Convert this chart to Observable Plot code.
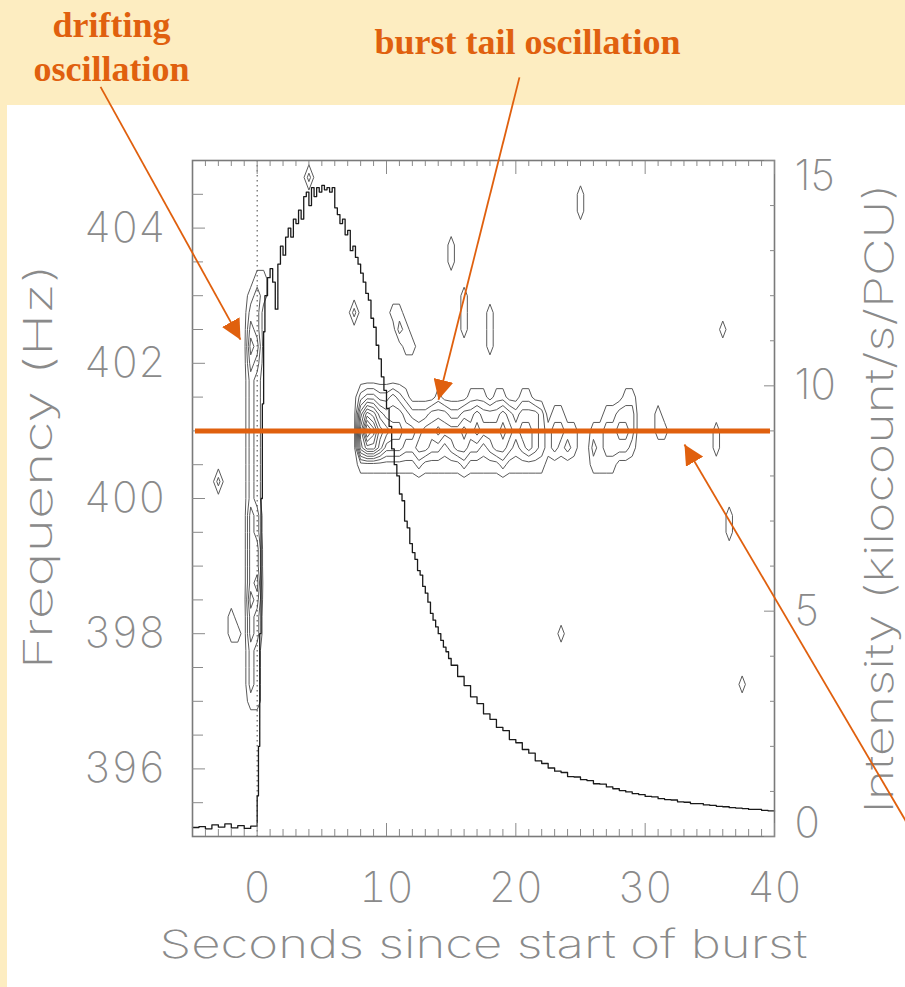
<!DOCTYPE html>
<html>
<head>
<meta charset="utf-8">
<script src="https://cdn.jsdelivr.net/npm/d3@7"></script>
<script src="https://cdn.jsdelivr.net/npm/@observablehq/plot@0.6"></script>
<style>
  html, body { margin: 0; padding: 0; }
  body { background: #fdedc1; width: 905px; height: 987px; position: relative; overflow: hidden; }
  #panel { position: absolute; left: 7px; top: 105px; width: 898px; height: 882px; background: #ffffff; }
  #chart { position: absolute; left: 0; top: 0; }
</style>
</head>
<body>
<div id="panel"></div>
<div id="chart"></div>
<script>
// Burst light curve: time since burst onset (s) and count rate (kilocount/s/PCU)
const lcTime = [-5, -4.5, -4, -3.5, -3, -2.5, -2, -1.5, -1, -0.5,
  0, 0.1, 0.2, 0.3, 0.4, 0.5, 0.6, 0.8, 1.0, 1.2, 1.4, 1.6, 1.8, 2.0, 2.2, 2.4, 2.6, 2.8,
  3.0, 3.2, 3.4, 3.6, 3.8, 4.0, 4.2, 4.4, 4.6, 4.8, 5.0, 5.2, 5.4, 5.6, 5.8, 6.0, 6.2, 6.4,
  6.6, 6.8, 7.0, 7.2, 7.4, 7.6, 7.8, 8.0, 8.2, 8.4, 8.6, 8.8, 9.0, 9.2, 9.4, 9.6, 9.8, 10.0,
  10.2, 10.4, 10.6, 10.8, 11.0, 11.2, 11.4, 11.6, 11.8, 12.0, 12.2, 12.4, 12.6, 12.8, 13.0,
  13.2, 13.4, 13.6, 13.8, 14.0, 14.2, 14.4, 14.6, 14.8, 15.0, 15.5, 16.0, 16.5, 17.0, 17.5,
  18.0, 18.5, 19.0, 19.5, 20.0, 20.5, 21.0, 21.5, 22.0, 22.5, 23.0, 23.5, 24.0, 24.5, 25.0,
  25.5, 26.0, 26.5, 27.0, 27.5, 28.0, 28.5, 29.0, 29.5, 30.0, 30.5, 31.0, 31.5, 32.0, 32.5,
  33.0, 33.5, 34.0, 34.5, 35.0, 35.5, 36.0, 36.5, 37.0, 37.5, 38.0, 38.5, 39.0, 39.5, 40];
const lcRate = [0.20, 0.22, 0.17, 0.26, 0.21, 0.28, 0.19, 0.24, 0.18, 0.23,
  0.9, 2.0, 4.5, 7.5, 9.6, 11.2, 12.0, 12.4, 12.6, 12.3, 11.7, 12.7, 13.1, 12.9, 13.3, 13.5, 13.3, 13.7,
  13.6, 13.9, 13.7, 14.2, 14.3, 14.0, 14.4, 14.2, 14.4, 14.3, 14.45, 14.35, 14.4, 14.3, 14.4, 13.95, 13.8, 13.6,
  13.7, 13.35, 13.45, 13.0, 13.1, 12.85, 12.7, 12.5, 12.3, 12.05, 11.9, 11.5, 11.3, 10.9, 10.6, 10.2, 9.9, 9.5,
  9.1, 8.6, 8.25, 8.0, 7.6, 7.45, 7.0, 6.85, 6.5, 6.3, 6.15, 5.9, 5.8, 5.55, 5.4,
  5.2, 4.95, 4.8, 4.65, 4.5, 4.35, 4.2, 4.1, 3.95, 3.8, 3.55, 3.35, 3.1, 2.95, 2.72,
  2.6, 2.42, 2.35, 2.15, 2.08, 1.93, 1.85, 1.68, 1.62, 1.52, 1.45, 1.42, 1.33, 1.32, 1.26,
  1.24, 1.17, 1.16, 1.1, 1.06, 1.02, 0.99, 0.95, 0.93, 0.89, 0.88, 0.84, 0.82, 0.81, 0.77,
  0.76, 0.73, 0.73, 0.70, 0.69, 0.67, 0.66, 0.64, 0.63, 0.62, 0.60, 0.60, 0.58, 0.57, 0.56];

// Dynamic power spectrum, stored as runs of power levels on a 0.5 s x 0.25 Hz grid.
// Each run: [frequency (Hz), time of first bin (s), one base-36 digit per bin]
const specTime = [-5, 40];
const specFreq = [395, 405];
const specDt = 0.5;
const specDf = 0.25;
const powerRuns = [
  // oscillation drifting during the rise
  [403.25, -0.5, "011"], [403.0, -0.5, "121"], [402.75, -0.5, "220"],
  [402.5, -0.5, "32"], [402.25, -0.5, "43"], [402.0, -0.5, "32"],
  [401.75, -0.5, "21"], [401.5, -0.5, "21"], [401.25, -0.5, "21"], [401.0, -0.5, "21"],
  [400.75, -0.5, "21"], [400.5, -0.5, "21"], [400.25, -0.5, "21"], [400.0, -0.5, "21"],
  [399.75, -0.5, "32"], [399.5, -0.5, "32"], [399.25, -0.5, "33"], [399.0, -0.5, "33"],
  [398.75, -0.5, "34"], [398.5, -0.5, "43"], [398.25, -0.5, "32"], [398.0, -0.5, "32"],
  [397.75, -0.5, "21"], [397.5, -0.5, "21"], [397.25, -0.5, "21"], [397.0, -0.5, "11"],
  // oscillation in the burst tail
  [401.5, 7.5, "0233223210 0001000011 1011001100 0000000000 0011"],
  [401.25, 7.5, "0587544432 2233322334 3334323332 0110000001 1222000100"],
  [401.0, 7.5, "07ca765544 3445444545 4445434432 1221100112 2332000110 0000001"],
  [400.75, 7.5, "0688644433 4433234433 2344323432 1212100212 2221000000 0000001"],
  [400.5, 7.5, "0111111111 2111111211 1112111111 0000000111 1000"],
  // isolated noise peaks
  [400.25, -3, "2"], [398.25, -2, "1"], [398.0, -2, "11"],
  [404.75, 4, "2"], [402.75, 7.5, "2"],
  [402.75, 10.5, "11"], [402.5, 11, "21"], [402.25, 11.5, "11"],
  [403.75, 15, "1"], [403.5, 15, "1"],
  [403.0, 16, "1"], [402.75, 16, "1"], [402.5, 16, "1"],
  [402.75, 18, "1"], [402.5, 18, "1"], [402.25, 18, "1"],
  [404.5, 25, "1"], [404.25, 25, "1"],
  [402.5, 36, "1"], [399.75, 36.5, "1"], [399.5, 36.5, "1"],
  [398.0, 23.5, "1"], [397.25, 37.5, "1"]
];
const contourLevels = d3.range(0.5, 12, 1);

// Axis ticks
const freqMajor = [396, 398, 400, 402, 404];
const freqMinor = d3.range(395.5, 405, 0.5).filter(f => f % 2 !== 0);
const secMajor = [0, 10, 20, 30, 40];
const secMinor = d3.range(-4, 40, 1).filter(t => t % 10 !== 0);
const rateMajor = [0, 5, 10, 15];
const rateMinor = d3.range(1, 15, 1).filter(r => r % 5 !== 0);

// Axis titles
const titleX = "Seconds since start of burst";
const titleLeft = "Frequency (Hz)";
const titleRight = "Intensity (kilocount/s/PCU)";

// Annotations
const orange = "#e0600e";
const tailFreq = 401;
const headerNotes = [
  {t: -11.26, f: 406.82, text: "drifting"},
  {t: -11.26, f: 406.18, text: "oscillation"},
  {t: 20.9, f: 406.57, text: "burst tail oscillation"}
];
const pointers = [
  {t1: -12.11, f1: 406.09, t2: -1.29, f2: 402.35},
  {t1: 20.28, f1: 406.23, t2: 14.02, f2: 401.46},
  {t1: 51.44, f1: 394.81, t2: 33.04, f2: 400.80}
];

// ---- build the power grid
const nCols = Math.round((specTime[1] - specTime[0]) / specDt) + 1;
const nRows = Math.round((specFreq[1] - specFreq[0]) / specDf) + 1;
const power = new Array(nCols * nRows).fill(0);
for (const [f, t0, run] of powerRuns) {
  const r = Math.round((specFreq[1] - f) / specDf);
  const digits = run.replace(/\s+/g, "");
  for (let k = 0; k < digits.length; k++) {
    const c = Math.round((t0 + k * specDt - specTime[0]) / specDt);
    power[r * nCols + c] = parseInt(digits[k], 36);
  }
}

// intensity is drawn on the frequency frame: 0–15 kilocount/s spans 395–405 Hz
const rateToFreq = r => specFreq[0] + r * (specFreq[1] - specFreq[0]) / 15;
const lightCurve = lcTime.map((t, i) => ({t, rate: lcRate[i]}));

const blank = () => "";
const plot = Plot.plot({
  width: 905,
  height: 987,
  marginLeft: 192,
  marginRight: 131,
  marginTop: 160,
  marginBottom: 151,
  x: {domain: [-5, 40], label: null},
  y: {domain: [395, 405], label: null},
  style: {
    background: "transparent",
    color: "#8a8a8a",
    fontFamily: "Inter, 'DejaVu Sans', sans-serif",
    fontWeight: 200,
    fontSize: "42px"
  },
  marks: [
    Plot.contour(power, {
      value: Plot.identity,
      width: nCols, height: nRows,
      x1: specTime[0] - specDt / 2, x2: specTime[1] + specDt / 2,
      y1: specFreq[1] + specDf / 2, y2: specFreq[0] - specDf / 2,
      thresholds: contourLevels,
      fill: "none", stroke: "#5a5a5a", strokeWidth: 1
    }),
    Plot.ruleX([0], {stroke: "#444", strokeWidth: 1, strokeDasharray: "1.5,3.5"}),
    Plot.line(lightCurve, {x: "t", y: d => rateToFreq(d.rate), curve: "step-after", stroke: "#1a1a1a", strokeWidth: 1.3}),
    Plot.frame({stroke: "#7a7a7a", strokeWidth: 1.6}),
    // inward ticks on all four sides
    Plot.axisX(secMinor, {anchor: "top", tickSize: -5, tickFormat: blank, label: null}),
    Plot.axisX(secMajor, {anchor: "top", tickSize: -13, tickFormat: blank, label: null}),
    Plot.axisX(secMinor, {anchor: "bottom", tickSize: -7, tickFormat: blank, label: null}),
    Plot.axisX(secMajor, {anchor: "bottom", tickSize: -13, tickFormat: blank, label: null}),
    Plot.axisX(secMajor, {anchor: "bottom", tickSize: 0, tickPadding: 36, tickFormat: d3.format("d"), label: null}),
    Plot.axisY(freqMinor, {anchor: "left", tickSize: -11, tickFormat: blank, label: null}),
    Plot.axisY(freqMajor, {anchor: "left", tickSize: -13, tickFormat: blank, label: null}),
    Plot.axisY(freqMajor, {anchor: "left", tickSize: 0, tickPadding: 27, tickFormat: d3.format("d"), label: null}),
    Plot.axisY(rateMinor.map(rateToFreq), {anchor: "right", tickSize: -5, tickFormat: blank, label: null}),
    Plot.axisY(rateMajor.map(rateToFreq), {anchor: "right", tickSize: -11, tickFormat: blank, label: null}),
    Plot.text(rateMajor.filter(r => r > 0 && r < 15), {y: rateToFreq, text: d => String(d), frameAnchor: "right", dx: 20, textAnchor: "start"}),
    Plot.text([15], {y: rateToFreq, text: d => String(d), frameAnchor: "right", dx: 20, textAnchor: "start", lineAnchor: "top"}),
    Plot.text([0], {y: rateToFreq, text: d => String(d), frameAnchor: "right", dx: 20, textAnchor: "start", lineAnchor: "bottom"}),
    // axis titles
    Plot.text([titleX], {x: 17.5, y: 393.21, text: d => d, lineAnchor: "bottom", fontSize: 39}),
    Plot.text([titleLeft], {x: -16.83, y: 400.47, text: d => d, rotate: -90, fontSize: 39}),
    Plot.text([titleRight], {x: 48.2, y: 400.0, text: d => d, rotate: -90, fontSize: 39}),
    // tail oscillation frequency
    Plot.ruleY([tailFreq], {x1: -4.77, x2: 39.69, stroke: orange, strokeWidth: 5}),
    // notes and pointers
    Plot.link(pointers, {x1: "t1", y1: "f1", x2: "t2", y2: "f2", stroke: orange, strokeWidth: 1.8}),
    Plot.text(headerNotes, {x: "t", y: "f", text: "text", lineAnchor: "bottom", fill: orange,
      fontFamily: "'Liberation Serif', 'Times New Roman', serif", fontWeight: "bold", fontSize: 36})
  ]
});

const svg = d3.select(plot);

// filled triangular heads for the pointers
svg.append("defs").append("marker")
  .attr("id", "pointer-head")
  .attr("viewBox", "0 -10 20 20")
  .attr("refX", 20).attr("refY", 0)
  .attr("markerWidth", 20).attr("markerHeight", 20)
  .attr("markerUnits", "userSpaceOnUse")
  .attr("orient", "auto")
  .append("path").attr("d", "M0,-10L20,0L0,10Z").attr("fill", orange);
svg.selectAll('g[aria-label="link"] path').attr("marker-end", "url(#pointer-head)");

// the plotter's stroke font is wide: stretch the axis titles to its set width
const titleWidths = new Map([[titleX, 648], [titleLeft, 405], [titleRight, 630]]);
svg.selectAll("text").each(function () {
  const w = titleWidths.get(this.textContent);
  if (w) d3.select(this).attr("textLength", w).attr("lengthAdjust", "spacingAndGlyphs");
});

document.getElementById("chart").appendChild(plot);
</script>
</body>
</html>
